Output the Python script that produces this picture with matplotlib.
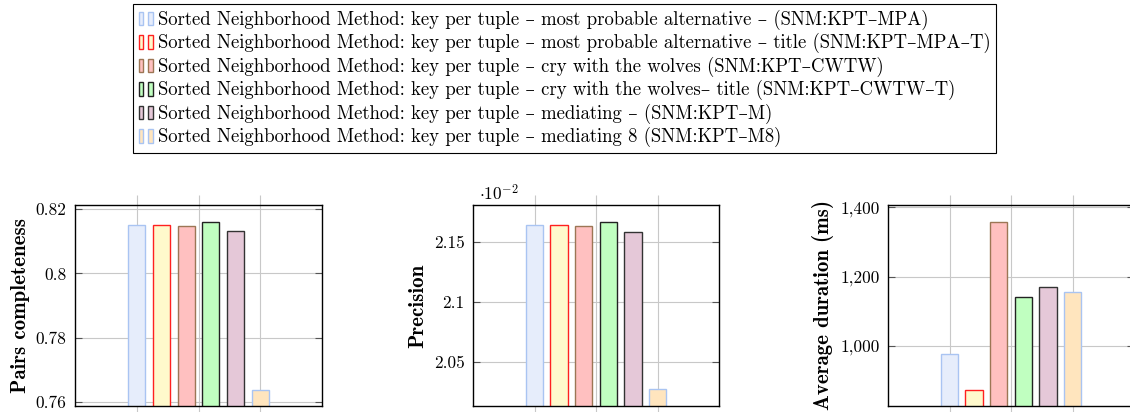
import matplotlib
matplotlib.use("Agg")
import matplotlib.pyplot as plt
from matplotlib.legend_handler import HandlerBase
from matplotlib.patches import Rectangle
from matplotlib.ticker import FuncFormatter, FixedLocator

plt.rcParams['font.family'] = ['cmr10', 'DejaVu Serif']
plt.rcParams['mathtext.fontset'] = 'cm'
plt.rcParams['axes.unicode_minus'] = False

labels = [
    "Sorted Neighborhood Method: key per tuple \u2013 most probable alternative \u2013 (SNM:KPT\u2013MPA)",
    "Sorted Neighborhood Method: key per tuple \u2013 most probable alternative \u2013 title (SNM:KPT\u2013MPA\u2013T)",
    "Sorted Neighborhood Method: key per tuple \u2013 cry with the wolves (SNM:KPT\u2013CWTW)",
    "Sorted Neighborhood Method: key per tuple \u2013 cry with the wolves\u2013 title (SNM:KPT\u2013CWTW\u2013T)",
    "Sorted Neighborhood Method: key per tuple \u2013 mediating \u2013 (SNM:KPT\u2013M)",
    "Sorted Neighborhood Method: key per tuple \u2013 mediating 8 (SNM:KPT\u2013M8)",
]
facecolors = ['#E6EDFB', '#FFF9CC', '#FFC0C0', '#C0FFC0', '#E5C8D8', '#FFE5BE']
edgecolors = ['#A9C4F2', '#FF2020', '#9C7655', '#222222', '#333333', '#A9C4F2']

pairs_completeness = [0.8151, 0.8151, 0.8148, 0.8160, 0.8131, 0.7637]
precision = [0.021642, 0.021642, 0.021633, 0.021669, 0.021589, 0.020278]
avg_duration = [977, 873, 1357, 1142, 1171, 1155]

pc_ticks = [0.76, 0.78, 0.80, 0.82]
prec_ticks = [0.0205, 0.0210, 0.0215]
dur_ticks = [1000, 1200, 1400]

W, H = 1130, 412
fig = plt.figure(figsize=(W / 100, H / 100), dpi=100)


def px_axes(left, top, right, bottom):
    return fig.add_axes([left / W, 1 - bottom / H, (right - left) / W, (bottom - top) / H])


class TwoBarHandler(HandlerBase):
    def create_artists(self, legend, orig_handle, xdescent, ydescent,
                       width, height, fontsize, trans):
        fc = orig_handle.get_facecolor()
        ec = orig_handle.get_edgecolor()
        w = width * 0.34
        arts = []
        for x0 in (-xdescent, -xdescent + width - w):
            r = Rectangle((x0, -ydescent - height * 0.05), w, height * 1.05,
                          facecolor=fc, edgecolor=ec, linewidth=1.0, transform=trans)
            arts.append(r)
        return arts


def style_axes(ax, ylim, yticks, fmt, ylabel, labelpad):
    ax.set_xlim(0, 4)
    ax.set_ylim(*ylim)
    ax.xaxis.set_major_locator(FixedLocator([1, 2, 3]))
    ax.set_xticklabels([])
    ax.yaxis.set_major_locator(FixedLocator(yticks))
    ax.yaxis.set_major_formatter(FuncFormatter(fmt))
    ax.grid(True, color='#c8c8c8', linewidth=0.8)
    ax.set_axisbelow(True)
    ax.tick_params(axis='x', top=True, bottom=True, direction='out',
                   length=7, width=0.8, color='#c8c8c8')
    ax.tick_params(axis='y', left=True, right=True, direction='in',
                   length=5, width=0.8, color='#555555', labelsize=12.5, pad=6)
    for s in ax.spines.values():
        s.set_linewidth(1.0)
        s.set_color('black')
    ax.set_ylabel(ylabel, fontfamily='cmb10', fontsize=15, labelpad=labelpad)


def draw_bars(ax, values, scale=1.0):
    n = len(values)
    handles = []
    for i, v in enumerate(values):
        x = 2 + (i - (n - 1) / 2) * 0.4
        b = ax.bar(x, v * scale, width=0.28, color=facecolors[i],
                   edgecolor=edgecolors[i], linewidth=1.0, label=labels[i])
        handles.append(b.patches[0])
    return handles


ax1 = px_axes(75, 205, 322, 406)
handles = draw_bars(ax1, pairs_completeness)
style_axes(ax1, (0.7587, 0.8213), pc_ticks, lambda v, p: f"{v:g}",
           "Pairs completeness", 4.5)

ax2 = px_axes(473, 205, 719, 406)
draw_bars(ax2, precision, scale=100)
style_axes(ax2, (2.0136, 2.1811), [t * 100 for t in prec_ticks],
           lambda v, p: f"{round(v, 4):g}", "Precision", 4.5)
fig.text(479 / W, 1 - 193 / H, r"$\cdot 10^{-2}$", fontsize=12.5, va='center', ha='left')

ax3 = px_axes(888, 205, 1134, 406)
draw_bars(ax3, avg_duration)
style_axes(ax3, (827, 1406.7), dur_ticks, lambda v, p: f"{v:,.0f}",
           "Average duration (ms)", 4.5)

leg = fig.legend(handles=handles, labels=labels, loc='upper left',
                 bbox_to_anchor=(133 / W, 1 - 4 / H),
                 handler_map={Rectangle: TwoBarHandler()},
                 fontsize=13.5, frameon=True, fancybox=False, edgecolor='black',
                 framealpha=1, borderpad=0.3, labelspacing=0.18,
                 handlelength=0.76, handleheight=0.7, handletextpad=0.25,
                 borderaxespad=0)
leg.get_frame().set_linewidth(0.8)

fig.savefig("out.png", dpi=100)
